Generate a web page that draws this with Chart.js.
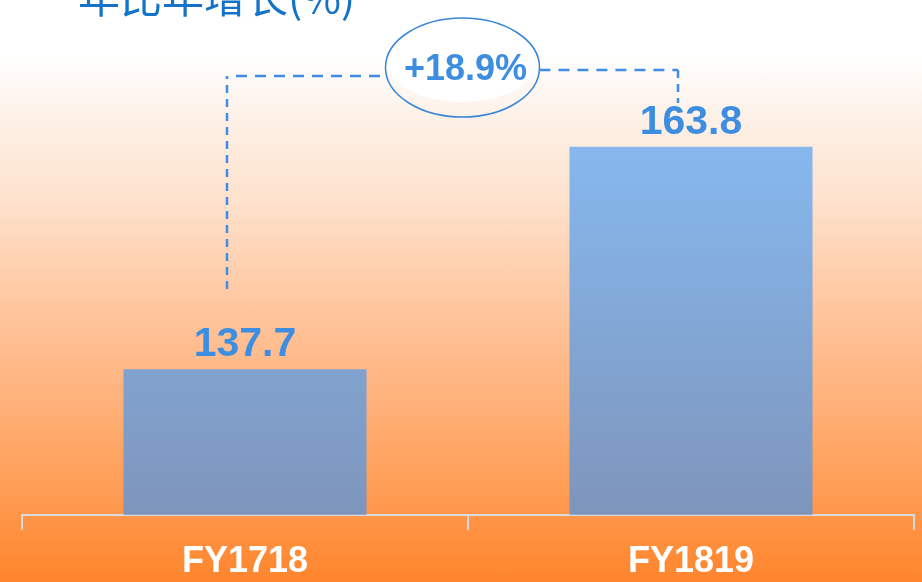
<!DOCTYPE html>
<html>
<head>
<meta charset="utf-8">
<script src="https://cdn.jsdelivr.net/npm/chart.js@4"></script>
<style>
  html, body { margin: 0; padding: 0; overflow: hidden; width: 922px; height: 582px; }
  #wrap {
    position: relative; width: 922px; height: 595px;
    background: linear-gradient(to bottom,
      #ffffff 0px, #ffffff 55px, #fdf0e6 120px, #fee2cd 200px, #fed2b2 260px,
      #ffc196 330px, #ffad72 420px, #ff9a50 500px, #ff8a35 560px, #ff8129 595px);
  }
  canvas { display: block; }
</style>
</head>
<body>
<div id="wrap"><canvas id="c" width="922" height="595"></canvas></div>
<script>
// ---- data ----
const categories = ['FY1718', 'FY1819'];
const revenue = [137.7, 163.8];
const titleText = '年比年增长(%)';
const growthLabel = '+18.9%';
const yMin = 120.6;
const yMax = 170;

const BLUE_TEXT = '#3d8ee0';

const titlePlugin = {
  id: 'topTitle',
  afterDraw(chart) {
    const ctx = chart.ctx;
    ctx.save();
    ctx.font = '42px "Noto Sans CJK SC", sans-serif';
    ctx.fillStyle = '#1473c6';
    ctx.textAlign = 'left';
    ctx.textBaseline = 'alphabetic';
    ctx.fillText(titleText, 78, 13);
    ctx.restore();
  }
};

const valueLabels = {
  id: 'valueLabels',
  afterDatasetsDraw(chart) {
    const ctx = chart.ctx;
    const meta = chart.getDatasetMeta(0);
    ctx.save();
    ctx.font = 'bold 41px "Liberation Sans", Arial, sans-serif';
    ctx.fillStyle = BLUE_TEXT;
    ctx.textAlign = 'center';
    ctx.textBaseline = 'alphabetic';
    meta.data.forEach((bar, i) => {
      ctx.fillText(revenue[i].toFixed(1), bar.x, bar.y - 13);
    });
    ctx.restore();
  }
};

const growthPlugin = {
  id: 'growth',
  afterDraw(chart) {
    const ctx = chart.ctx;
    const meta = chart.getDatasetMeta(0);
    const b1 = meta.data[0], b2 = meta.data[1];
    const cx = (b1.x + b2.x) / 2 - 5.5, cy = 67.5, rx = 77, ry = 49.5;
    const xL = Math.round(b1.x - 18.5), xR = Math.round(b2.x - 13.5);
    const yL = 76, yR = 70;
    const edge = (y, side) => cx + side * rx * Math.sqrt(1 - Math.pow((y - cy) / ry, 2));
    ctx.save();
    // inner white glow
    ctx.beginPath();
    ctx.ellipse(cx, cy - 5, rx - 4, ry - 10, 0, 0, Math.PI * 2);
    ctx.fillStyle = 'rgba(255,255,255,0.95)';
    ctx.fill();
    // outline
    ctx.beginPath();
    ctx.ellipse(cx, cy, rx, ry, 0, 0, Math.PI * 2);
    ctx.strokeStyle = '#3a86d6';
    ctx.lineWidth = 1.5;
    ctx.stroke();
    // dashed connectors
    ctx.strokeStyle = '#3f8de6';
    ctx.lineWidth = 2.5;
    ctx.setLineDash([8, 6]);
    ctx.beginPath();
    ctx.moveTo(xL, Math.round(b1.y - 80));
    ctx.lineTo(xL, yL);
    ctx.stroke();
    ctx.setLineDash([11, 8]);
    ctx.beginPath();
    ctx.moveTo(xL + 9, yL);
    ctx.lineTo(edge(yL, -1), yL);
    ctx.stroke();
    ctx.beginPath();
    ctx.moveTo(edge(yR, 1), yR);
    ctx.lineTo(xR, yR);
    ctx.stroke();
    ctx.setLineDash([8, 6]);
    ctx.beginPath();
    ctx.moveTo(xR, yR);
    ctx.lineTo(xR, Math.round(b2.y - 44));
    ctx.stroke();
    ctx.setLineDash([]);
    // label
    ctx.font = 'bold 36px "Liberation Sans", Arial, sans-serif';
    ctx.fillStyle = BLUE_TEXT;
    ctx.textAlign = 'center';
    ctx.textBaseline = 'alphabetic';
    ctx.fillText(growthLabel, cx + 3, 80);
    ctx.restore();
  }
};

function barGradient(context) {
  const chart = context.chart;
  const area = chart.chartArea;
  if (!area) return '#82a8d8';
  const ys = chart.scales.y;
  const top = ys.getPixelForValue(Math.max(...revenue));
  const g = chart.ctx.createLinearGradient(0, top, 0, area.bottom);
  g.addColorStop(0, '#86b8ee');
  g.addColorStop(1, '#7e95bb');
  return g;
}

new Chart(document.getElementById('c'), {
  type: 'bar',
  data: {
    labels: categories,
    datasets: [{
      data: revenue,
      backgroundColor: barGradient,
      borderWidth: 0,
      barPercentage: 0.545,
      categoryPercentage: 1
    }]
  },
  options: {
    responsive: false,
    animation: false,
    layout: { padding: { left: 22, right: 8, top: 94, bottom: 0 } },
    plugins: { legend: { display: false }, tooltip: { enabled: false }, title: { display: false } },
    scales: {
      x: {
        grid: { offset: true, drawOnChartArea: false, drawTicks: true, tickLength: 15, color: '#d9dbde', lineWidth: 2 },
        border: { display: true, color: '#d9dbde', width: 2 },
        ticks: { color: '#ffffff', padding: 11, font: { family: '"Liberation Sans", Arial, sans-serif', size: 36, weight: 'bold' } }
      },
      y: { display: false, min: yMin, max: yMax }
    }
  },
  plugins: [titlePlugin, valueLabels, growthPlugin]
});
</script>
</body>
</html>
